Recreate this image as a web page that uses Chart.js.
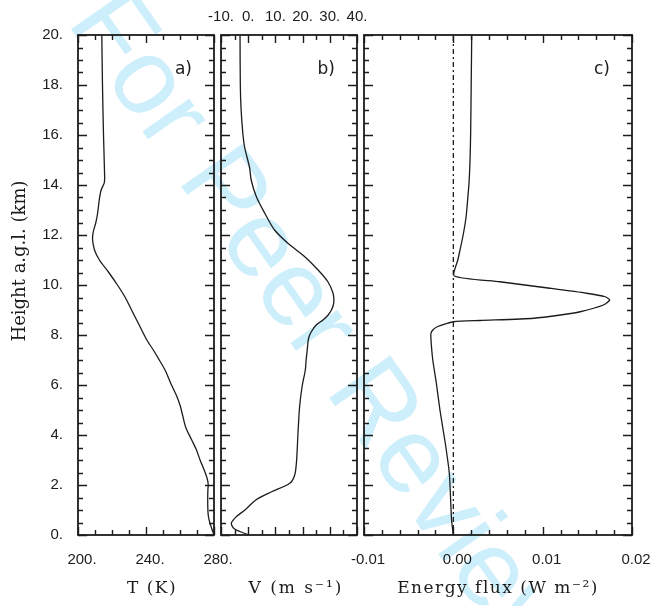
<!DOCTYPE html>
<html><head><meta charset="utf-8">
<script src="https://cdn.jsdelivr.net/npm/chart.js@4/dist/chart.umd.min.js"></script>
<style>
html,body{margin:0;padding:0;background:#fff;}
#wrap{position:relative;width:652px;height:606px;overflow:hidden;background:#fff;}
canvas{position:absolute;left:0;top:0;}
</style></head><body>
<div id="wrap">
<canvas id="ca" width="652" height="606"></canvas>
<canvas id="cb" width="652" height="606"></canvas>
<canvas id="cc" width="652" height="606"></canvas>
</div>
<script>
// ---------- data ----------
const heightT = [0, 0.25, 0.5, 0.75, 1.0, 1.4, 1.8, 2.0, 2.2, 2.5, 3.0, 3.4, 3.8, 4.3, 4.8, 5.2, 5.6, 6.0, 6.6, 7.0, 7.4, 7.8, 8.4, 9.0, 9.5, 10.0, 10.5, 11.0, 11.4, 11.8, 12.1, 12.5, 12.9, 13.4, 13.8, 14.1, 14.5, 16, 18, 20];
const temperatureK = [280, 278.7, 277.5, 276.7, 276.4, 276.3, 276.4, 276.6, 276.2, 274.8, 271.8, 269.7, 266.9, 263.4, 261.5, 260, 257.8, 255, 251.2, 247.8, 244.3, 240.5, 236, 231.5, 227.8, 223.2, 218.1, 212.6, 209.7, 208.6, 208.9, 210.5, 211.6, 212.5, 213.6, 215.5, 215.6, 215.0, 214.4, 214.0];

const heightV = [0, 0.24, 0.47, 0.73, 1.0, 1.4, 1.73, 2.07, 2.4, 3.0, 4.07, 5.13, 5.93, 6.6, 7.0, 7.4, 7.87, 8.13, 8.4, 8.6, 8.8, 9.0, 9.2, 9.4, 9.67, 10.13, 10.6, 11.13, 11.67, 12.2, 12.87, 13.53, 14.2, 14.7, 15.5, 16.1, 17, 18, 20];
const windV = [0.3, -5, -6.2, -4.4, -1.2, 2.8, 8.6, 15.3, 17.1, 17.8, 18.3, 18.9, 19.8, 21, 21.3, 21.7, 22.2, 23.2, 25.0, 27.5, 29.4, 30.6, 31.3, 31.5, 31.2, 29.3, 25.7, 20.8, 14.6, 9.7, 6.1, 3.0, 1.1, 0.5, -1.3, -2.0, -2.6, -2.9, -3.0];

const heightF = [0, 0.6, 1.4, 2.47, 3.67, 5.0, 6.07, 7.0, 7.8, 8.07, 8.2, 8.33, 8.45, 8.53, 8.58, 8.67, 8.8, 8.93, 9.2, 9.4, 9.53, 9.67, 9.87, 10.13, 10.36, 11.0, 11.4, 12.0, 12.7, 13.4, 14.1, 15, 16.1, 18, 20];
const energyFlux = [0, -0.0002, -0.0003, -0.00045, -0.0009, -0.0015, -0.0019, -0.0023, -0.0025, -0.0025, -0.0023, -0.0018, -0.0008, 0, 0.003, 0.009, 0.012, 0.0142, 0.0168, 0.0175, 0.0170, 0.0149, 0.0108, 0.0052, 0.0001, 0.0005, 0.00075, 0.0011, 0.00142, 0.0016, 0.00176, 0.00187, 0.00194, 0.002, 0.00206];

const heightTicks = [0, 2, 4, 6, 8, 10, 12, 14, 16, 18, 20];
const tempTicks = [200, 240, 280];
const windTicks = [-10, 0, 10, 20, 30, 40];
const fluxTicks = [-0.01, 0, 0.01, 0.02];
const zeroLineHeights = [0, 20];

// ---------- helpers ----------
const pts = (hs, xs) => hs.map((h, i) => ({x: xs[i], y: h}));
const TICK_FONT = {family: "'Liberation Sans', Arial, sans-serif", size: 15};
const INK = '#1c1c1c';

function framePlugin(cfg) {
  return {
    id: 'frame_' + cfg.name,
    beforeDraw(chart) {
      if (!cfg.watermark) return;
      const ctx = chart.ctx;
      ctx.save();
      ctx.translate(66, 22);
      ctx.rotate(55 * Math.PI / 180);
      ctx.font = "108px 'Liberation Sans', Arial, sans-serif";
      ctx.fillStyle = '#cdeefb';
      ctx.textBaseline = 'alphabetic';
      ctx.fillText('For Peer Review', 0, 0);
      ctx.restore();
    },
    afterDraw(chart) {
      const ctx = chart.ctx, a = chart.chartArea;
      const xs = chart.scales.x, ys = chart.scales.y;
      ctx.save();
      ctx.strokeStyle = INK;
      ctx.lineWidth = 1.4;
      ctx.beginPath();
      for (let i = 0; i <= 40; i++) {
        const v = i * 0.5;
        const py = Math.round(ys.getPixelForValue(v)) + 0.5;
        const len = (i % 4 === 0) ? 9 : 5;
        ctx.moveTo(a.left, py); ctx.lineTo(a.left + len, py);
        ctx.moveTo(a.right, py); ctx.lineTo(a.right - len, py);
      }
      for (let i = 0; i <= cfg.nMinor; i++) {
        const v = cfg.xmin + i * cfg.minorStep;
        const px = Math.round(xs.getPixelForValue(v)) + 0.5;
        const len = (i % cfg.majorEvery === 0) ? 8 : 5;
        ctx.moveTo(px, a.bottom); ctx.lineTo(px, a.bottom - len);
        ctx.moveTo(px, a.top); ctx.lineTo(px, a.top + len);
      }
      ctx.stroke();
      ctx.lineWidth = 1.8;
      ctx.strokeRect(a.left, a.top, a.right - a.left, a.bottom - a.top);
      ctx.fillStyle = INK;
      ctx.font = "17px 'DejaVu Sans', sans-serif";
      ctx.textAlign = 'right';
      ctx.textBaseline = 'middle';
      ctx.fillText(cfg.letter, a.right - 22, a.top + 35);
      ctx.font = "17px 'DejaVu Serif', serif";
      ctx.letterSpacing = cfg.titleSpacing + 'px';
      ctx.textAlign = 'center';
      ctx.fillText(cfg.title, (a.left + a.right) / 2 + cfg.titleShift, 589);
      if (cfg.yTitle) {
        ctx.font = "18px 'DejaVu Serif', serif";
        ctx.letterSpacing = '0px';
        ctx.translate(20, 261);
        ctx.rotate(-Math.PI / 2);
        ctx.fillText(cfg.yTitle, 0, 0);
      }
      ctx.restore();
    }
  };
}

function makeChart(id, cfg) {
  const datasets = cfg.series.map(s => ({
    data: s.data, showLine: true, borderColor: INK, borderWidth: 1.3,
    pointRadius: 0, tension: s.tension, borderDash: s.dash || [], fill: false
  }));
  const xTicks = cfg.xTicks;
  return new Chart(document.getElementById(id), {
    type: 'scatter',
    data: {datasets},
    options: {
      responsive: false, animation: false, events: [],
      layout: {padding: cfg.padding},
      plugins: {legend: {display: false}, tooltip: {enabled: false}},
      scales: {
        x: {
          type: 'linear', position: cfg.xPos, min: cfg.xmin, max: cfg.xmax,
          afterBuildTicks: s => { s.ticks = xTicks.map(v => ({value: v})); },
          afterFit: s => { s.height = cfg.xAxisH; s.paddingLeft = 0; s.paddingRight = 0; },
          grid: {display: false, drawTicks: false}, border: {display: false},
          ticks: {autoSkip: false, maxRotation: 0, minRotation: 0, font: TICK_FONT, color: INK,
                  padding: cfg.xPad, labelOffset: cfg.xLabelOffset, callback: cfg.xFmt}
        },
        y: {
          type: 'linear', min: 0, max: 20, display: !!cfg.showY,
          afterBuildTicks: s => { s.ticks = heightTicks.map(v => ({value: v})); },
          afterFit: s => { s.width = cfg.showY ? 78 : 0; s.paddingTop = 0; s.paddingBottom = 0; },
          grid: {display: false, drawTicks: false}, border: {display: false},
          ticks: {font: TICK_FONT, color: INK, padding: 15, callback: v => v + '.'}
        }
      }
    },
    plugins: [framePlugin(cfg)]
  });
}

makeChart('ca', {
  name: 'a', letter: 'a)', title: 'T (K)', titleShift: 6, titleSpacing: 1.5,
  yTitle: 'Height a.g.l. (km)', watermark: true, showY: true,
  padding: {left: 0, right: 438, top: 35, bottom: 0},
  xPos: 'bottom', xAxisH: 71, xPad: 16, xLabelOffset: 4,
  xmin: 200, xmax: 280, xTicks: tempTicks, xFmt: v => v + '.',
  minorStep: 10, nMinor: 8, majorEvery: 4,
  series: [{data: pts(heightT, temperatureK), tension: 0.3}]
});

makeChart('cb', {
  name: 'b', letter: 'b)', title: 'V (m s⁻¹)', titleShift: 7, titleSpacing: 2,
  padding: {left: 221, right: 295, top: 0, bottom: 71},
  xPos: 'top', xAxisH: 35, xPad: 9, xLabelOffset: 0,
  xmin: -10, xmax: 40, xTicks: windTicks, xFmt: v => v + '.',
  minorStep: 5, nMinor: 10, majorEvery: 2,
  series: [{data: pts(heightV, windV), tension: 0.3}]
});

makeChart('cc', {
  name: 'c', letter: 'c)', title: 'Energy flux (W m⁻²)', titleShift: 0, titleSpacing: 1.5,
  padding: {left: 364, right: 20, top: 35, bottom: 0},
  xPos: 'bottom', xAxisH: 71, xPad: 16, xLabelOffset: 4,
  xmin: -0.01, xmax: 0.02, xTicks: fluxTicks, xFmt: v => Number(v).toFixed(2),
  minorStep: 0.002, nMinor: 15, majorEvery: 5,
  series: [
    {data: pts(heightF, energyFlux), tension: 0.2},
    {data: zeroLineHeights.map(h => ({x: 0, y: h})), tension: 0, dash: [5, 3, 2, 3]}
  ]
});
</script>
</body></html>
